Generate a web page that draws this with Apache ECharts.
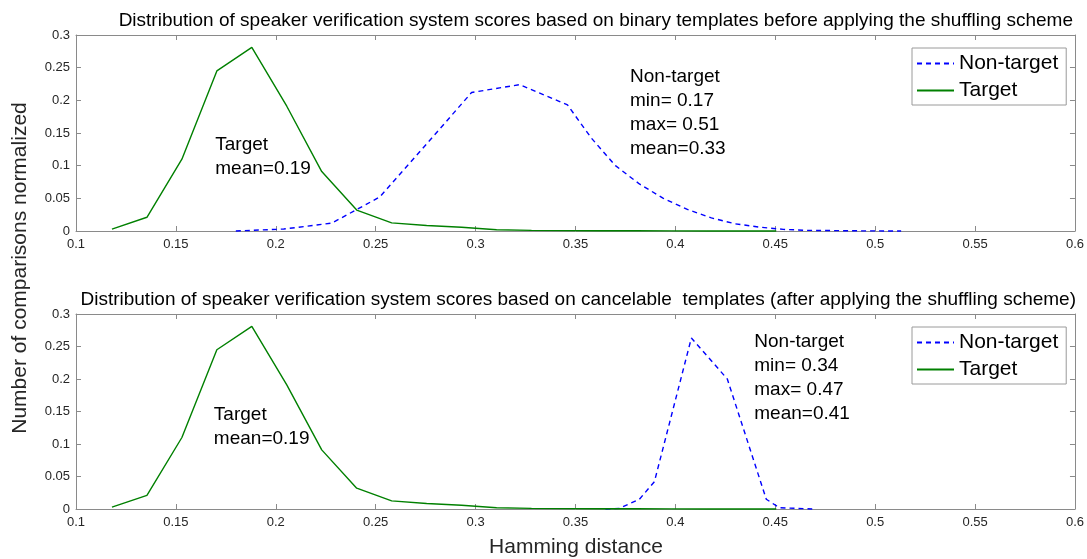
<!DOCTYPE html>
<html><head><meta charset="utf-8">
<script src="https://cdn.jsdelivr.net/npm/echarts@6/dist/echarts.min.js"></script>
<style>html,body{margin:0;padding:0;background:#fff}#c{width:1087px;height:559px}</style>
</head><body><div id="c"></div>
<script>
// ---------- data ----------
const seriesNames = ['Non-target', 'Target'];
const xTicks = [0.1, 0.15, 0.2, 0.25, 0.3, 0.35, 0.4, 0.45, 0.5, 0.55, 0.6];
const yTicks = [0, 0.05, 0.1, 0.15, 0.2, 0.25, 0.3];

// top panel (binary templates)
const targetTopX = [0.118, 0.1355, 0.153, 0.1705, 0.188, 0.2055, 0.223, 0.2405, 0.258, 0.2755, 0.293, 0.3105, 0.328, 0.3455, 0.363, 0.3805, 0.398, 0.4155, 0.433, 0.4505];
const targetTopY = [0.003, 0.021, 0.11, 0.245, 0.281, 0.191, 0.091, 0.032, 0.0125, 0.0085, 0.0058, 0.002, 0.001, 0.0006, 0.0004, 0.0003, 0.0002, 0.0001, 0.0001, 0.0];
const nonTargetTopX = [0.18, 0.204, 0.228, 0.252, 0.276, 0.298, 0.322, 0.346, 0.358, 0.37, 0.382, 0.394, 0.406, 0.418, 0.43, 0.442, 0.454, 0.466, 0.49, 0.513];
const nonTargetTopY = [0.0, 0.003, 0.012, 0.052, 0.135, 0.212, 0.224, 0.193, 0.142, 0.1, 0.072, 0.05, 0.033, 0.02, 0.011, 0.006, 0.0025, 0.001, 0.0003, 0.0];

// bottom panel (cancelable templates)
const targetBotX = [0.118, 0.1355, 0.153, 0.1705, 0.188, 0.2055, 0.223, 0.2405, 0.258, 0.2755, 0.293, 0.3105, 0.328, 0.3455, 0.363, 0.3805, 0.398, 0.4155, 0.433, 0.4505];
const targetBotY = [0.003, 0.021, 0.11, 0.245, 0.281, 0.191, 0.091, 0.032, 0.0125, 0.0085, 0.0058, 0.002, 0.001, 0.0006, 0.0004, 0.0003, 0.0002, 0.0001, 0.0001, 0.0];
const nonTargetBotX = [0.365, 0.372, 0.382, 0.3895, 0.408, 0.426, 0.4455, 0.452, 0.4685];
const nonTargetBotY = [0.0, 0.001, 0.015, 0.042, 0.263, 0.2, 0.015, 0.002, 0.0];

const titles = [
  'Distribution of speaker verification system scores based on binary templates before applying the shuffling scheme',
  'Distribution of speaker verification system scores based on cancelable  templates (after applying the shuffling scheme)'
];
const xAxisLabel = 'Hamming distance';
const yAxisLabel = 'Number of comparisons normalized';

// annotations: [panel, x, y (top-left of text block, data coords), lines]
const annotations = [
  [0, 0.1697, 0.1511, ['Target', 'mean=0.19']],
  [0, 0.3773, 0.2537, ['Non-target', 'min= 0.17', 'max= 0.51', 'mean=0.33']],
  [1, 0.169, 0.163, ['Target', 'mean=0.19']],
  [1, 0.4395, 0.2758, ['Non-target', 'min= 0.34', 'max= 0.47', 'mean=0.41']]
];

// ---------- chart ----------
const FONT = '"Liberation Sans", Arial, Helvetica, sans-serif';
const AX = '#8a8a8a';
const zip = (xs, ys) => xs.map((x, i) => [x, ys[i]]);
const fmt = v => String(+(+v).toFixed(3));

const grids = [
  {left: 76, right: 11, top: 35, height: 196},
  {left: 76, right: 11, top: 314, height: 195}
];

function xAx(gi, pos, labels) {
  return {
    type: 'value', gridIndex: gi, position: pos,
    min: xTicks[0], max: xTicks[xTicks.length - 1], interval: xTicks[1] - xTicks[0],
    axisLine: {show: true, onZero: false, lineStyle: {color: AX, width: 1}},
    axisTick: {show: true, inside: true, length: 5, lineStyle: {color: AX}},
    axisLabel: {show: labels, margin: 7, fontSize: 13, color: '#262626', fontFamily: FONT, formatter: fmt},
    splitLine: {show: false}
  };
}
function yAx(gi, pos, labels) {
  return {
    type: 'value', gridIndex: gi, position: pos,
    min: yTicks[0], max: yTicks[yTicks.length - 1], interval: yTicks[1] - yTicks[0],
    axisLine: {show: true, onZero: false, lineStyle: {color: AX, width: 1}},
    axisTick: {show: true, inside: true, length: 5, lineStyle: {color: AX}},
    axisLabel: {show: labels, margin: 6, fontSize: 13, color: '#262626', fontFamily: FONT, formatter: fmt},
    splitLine: {show: false}
  };
}

const ntStyle = {color: '#0000ff', width: 1.4, type: [5, 4]};
const tStyle = {color: '#008000', width: 1.4, type: 'solid'};
function line(name, xi, yi, data, st) {
  return {
    name, type: 'line', xAxisIndex: xi, yAxisIndex: yi, data,
    symbol: 'none', clip: false, smooth: false,
    lineStyle: st, itemStyle: {color: st.color}, z: 3
  };
}

function legend(top) {
  return {
    show: true, orient: 'vertical', left: 912, top: top,
    data: seriesNames,
    itemWidth: 37, itemHeight: 14, itemGap: 6,
    padding: [5, 8, 4, 4],
    borderColor: '#9a9a9a', borderWidth: 1, backgroundColor: '#fff',
    itemStyle: {opacity: 0},
    textStyle: {fontSize: 21, color: '#000', fontFamily: FONT},
    selectedMode: false
  };
}

const chart = echarts.init(document.getElementById('c'), null, {renderer: 'canvas'});
const option = {
  animation: false,
  backgroundColor: '#fff',
  grid: grids,
  xAxis: [xAx(0, 'bottom', true), xAx(0, 'top', false), xAx(1, 'bottom', true), xAx(1, 'top', false)],
  yAxis: [yAx(0, 'left', true), yAx(0, 'right', false), yAx(1, 'left', true), yAx(1, 'right', false)],
  legend: [legend(48), legend(327)],
  series: [
    line(seriesNames[0], 0, 0, zip(nonTargetTopX, nonTargetTopY), ntStyle),
    line(seriesNames[1], 0, 0, zip(targetTopX, targetTopY), tStyle),
    line(seriesNames[0], 2, 2, zip(nonTargetBotX, nonTargetBotY), ntStyle),
    line(seriesNames[1], 2, 2, zip(targetBotX, targetBotY), tStyle)
  ]
};
chart.setOption(option);

// text elements
const graphics = [];
graphics.push({type: 'text', x: 1073, y: 21, style: {text: titles[0], font: '19px ' + FONT, fill: '#000', align: 'right', verticalAlign: 'middle'}});
graphics.push({type: 'text', x: 1076, y: 300, style: {text: titles[1], font: '19px ' + FONT, fill: '#000', align: 'right', verticalAlign: 'middle'}});
graphics.push({type: 'text', x: 576, y: 547, style: {text: xAxisLabel, font: '21px ' + FONT, fill: '#262626', align: 'center', verticalAlign: 'middle'}});
graphics.push({type: 'text', x: 20, y: 268, rotation: Math.PI / 2, style: {text: yAxisLabel, font: '21px ' + FONT, fill: '#262626', align: 'center', verticalAlign: 'middle'}});
annotations.forEach(([p, ax, ay, lines]) => {
  const pt = chart.convertToPixel({xAxisIndex: p * 2, yAxisIndex: p * 2}, [ax, ay]);
  graphics.push({type: 'text', x: pt[0], y: pt[1], z: 10, style: {text: lines.join('\n'), font: '19px ' + FONT, lineHeight: 24, fill: '#000', align: 'left', verticalAlign: 'top'}});
});
chart.setOption({graphic: graphics});
</script>
</body></html>
